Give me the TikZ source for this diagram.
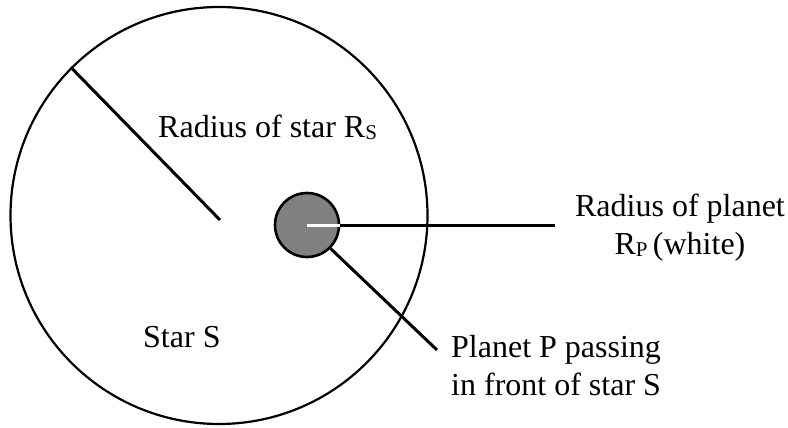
\documentclass[tikz,border=0pt]{standalone}
\usepackage{fontspec}
\setmainfont{Liberation Serif}
\usepackage{xcolor}
\usetikzlibrary{positioning}
\definecolor{colorPlanet}{HTML}{808080}
\def\colorPlanet{colorPlanet}
\newcommand{\indice}[1]{\raisebox{-1.5pt}{\fontsize{21pt}{21pt}\selectfont #1}}

\begin{document}
\begin{tikzpicture}[x=1pt, y=-1pt,
    etiquette/.style={inner sep=0pt, font=\fontsize{32pt}{38pt}\selectfont},
    trait/.style={line width=3pt}]

  \useasboundingbox (0,0) rectangle (788,428);

  % L'étoile et la planète
  \node[circle, draw, line width=2.2pt, minimum size=417pt, inner sep=0pt] (etoile) at (219,215.5) {};
  \node[circle, draw, line width=2.6pt, fill=\colorPlanet, minimum size=64pt, inner sep=0pt] (planete) at (307,225) {};

  % Rayon de l'étoile
  \coordinate (centre) at (220,220);
  \draw[trait] (etoile.135) -- (centre);

  % Rayon de la planète (blanc) puis le trait vers l'étiquette
  \coordinate (finRayon) at (555,225);
  \draw[trait, white] (planete.center) -- (planete.east);
  \draw[trait] (planete.east) -- (finRayon);

  % Trait vers « Planet P passing »
  \coordinate (finPlanete) at (437,350);
  \draw[trait] (planete.-45) -- (finPlanete);

  % Étiquettes
  \node[etiquette, anchor=base west] (rayonEtoile) at (158,138) {Radius of star R\indice{S}};
  \node[etiquette, anchor=base west] (nomEtoile) at (143,347) {Star S};
  \node[etiquette, align=center] (rayonPlanete) at (680,228) {Radius of planet\\R\indice{P}\,(white)};
  \node[etiquette, align=left, anchor=west] (nomPlanete) at (451,366) {Planet P passing\\in front of star S};

\end{tikzpicture}
\end{document}
